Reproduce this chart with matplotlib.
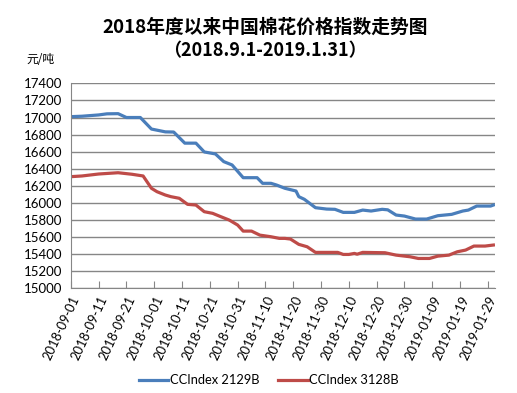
import matplotlib
matplotlib.use("Agg")
import matplotlib.pyplot as plt
import matplotlib.dates as mdates
import pandas as pd
import numpy as np

plt.rcParams['font.family'] = ['Noto Sans CJK SC', 'DejaVu Sans']

start = pd.Timestamp("2018-09-01")

# days since 2018-09-01
days_2129 = [0, 4, 10, 13, 17, 20, 25, 29, 34, 37, 41, 45, 48, 52, 55, 58, 62, 67, 69, 72,
             74, 77, 81, 82, 84, 88, 92, 95, 98, 102, 105, 108, 112, 114, 117, 120, 124, 128,
             132, 137, 141, 143, 146, 151, 152]
vals_2129 = [17010, 17015, 17030, 17043, 17045, 17000, 17000, 16865, 16832, 16830, 16700, 16700,
             16597, 16574, 16484, 16445, 16296, 16296, 16230, 16230, 16210, 16172, 16140, 16074,
             16043, 15945, 15929, 15926, 15890, 15890, 15917, 15906, 15926, 15920, 15859, 15847,
             15812, 15812, 15851, 15867, 15906, 15917, 15964, 15964, 15976]

days_3128 = [0, 4, 10, 17, 22, 26, 29, 31, 34, 36, 39, 42, 45, 48, 51, 54, 57, 60, 62, 65,
             68, 72, 75, 77, 79, 82, 85, 88, 96, 98, 100, 102, 103, 105, 113, 117, 122, 125,
             129, 132, 136, 139, 142, 145, 149, 152]
vals_3128 = [16308, 16316, 16339, 16354, 16336, 16316, 16172, 16132, 16093, 16074, 16055, 15984,
             15976, 15898, 15879, 15839, 15800, 15742, 15671, 15671, 15624, 15605, 15586, 15586,
             15578, 15516, 15488, 15422, 15422, 15398, 15398, 15410, 15401, 15422, 15418, 15390,
             15371, 15351, 15351, 15378, 15390, 15429, 15449, 15496, 15496, 15508]

series = [("CCIndex 2129B", days_2129, vals_2129, "#4a7ebb"),
          ("CCIndex 3128B", days_3128, vals_3128, "#be4b48")]

yticks = list(range(15000, 17401, 200))
xticks = pd.date_range("2018-09-01", periods=16, freq="10D")

fig = plt.figure(figsize=(5.17, 3.93), dpi=100)
ax = fig.add_axes([0.137, 0.266, 0.82, 0.522])

for name, d, v, c in series:
    dates = start + pd.to_timedelta(d, unit="D")
    ax.plot(dates, v, color=c, lw=2.3, label=name, solid_joinstyle="round")

ax.set_ylim(15000, 17400)
ax.set_yticks(yticks)
ax.set_xlim(start, start + pd.Timedelta(days=152.5))
ax.set_xticks(xticks)
ax.xaxis.set_major_formatter(mdates.DateFormatter("%Y-%m-%d"))

ax.grid(axis="y", color="#868686", lw=1)
ax.set_axisbelow(True)
for s in ["top", "right"]:
    ax.spines[s].set_visible(False)
for s in ["left", "bottom"]:
    ax.spines[s].set_color("#868686")
ax.tick_params(axis="y", length=0, pad=6, labelsize=9.5)
ax.tick_params(axis="x", direction="in", length=5, color="#868686", labelsize=9.3, pad=4)
for lab in ax.get_xticklabels():
    lab.set_rotation(65)
    lab.set_ha("right")
    lab.set_rotation_mode("anchor")
for lab in ax.get_xticklabels() + ax.get_yticklabels():
    lab.set_family(["Lato", "DejaVu Sans"])

fig.text(0.513, 0.93, "2018年度以来中国棉花价格指数走势图", ha="center", va="center",
         fontsize=13.5, fontweight="bold")
fig.text(0.513, 0.872, "（2018.9.1-2019.1.31）", ha="center", va="center",
         fontsize=13, fontweight="bold")
fig.text(0.052, 0.848, "元/吨", ha="left", va="center", fontsize=8.5)

leg = fig.legend(loc="center", bbox_to_anchor=(0.52, 0.033), ncol=2, frameon=False,
                 fontsize=9.3, handlelength=2.3, columnspacing=1.4, handletextpad=0.15)
for t in leg.get_texts():
    t.set_family(["Lato", "DejaVu Sans"])

fig.savefig("out.png", dpi=100)
